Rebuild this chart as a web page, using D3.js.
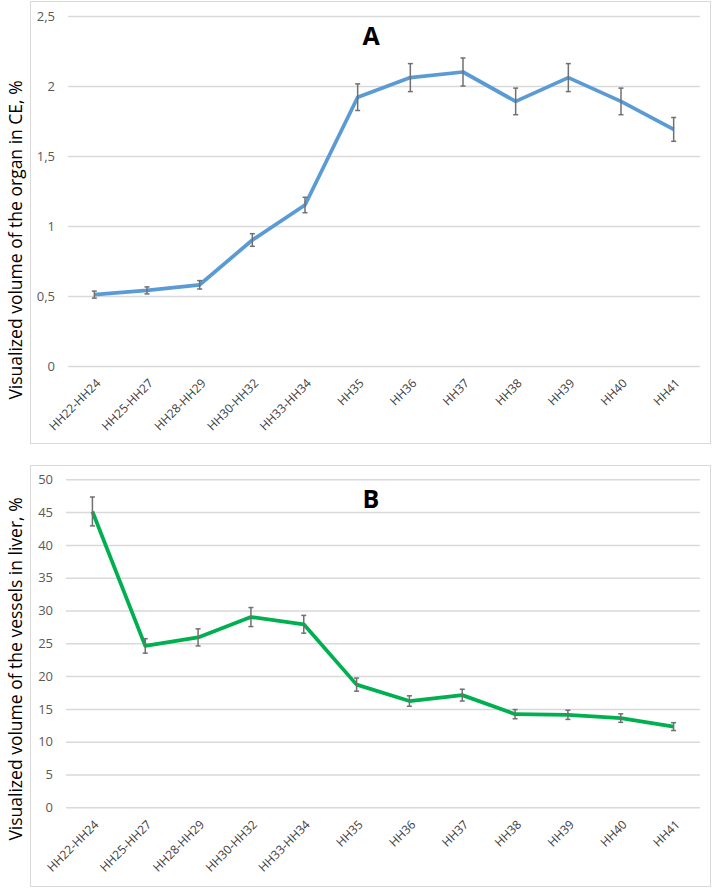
<!DOCTYPE html>
<html>
<head>
<meta charset="utf-8">
<script src="https://cdn.jsdelivr.net/npm/d3@7"></script>
<style>
  body { margin: 0; background: #fff; }
  svg { display: block; }
  text { font-family: "Open Sans", Lato, sans-serif; }
</style>
</head>
<body>
<svg id="chart" width="714" height="888"></svg>
<script>
// ---- Data ----
const categories = ["HH22-HH24","HH25-HH27","HH28-HH29","HH30-HH32","HH33-HH34","HH35","HH36","HH37","HH38","HH39","HH40","HH41"];

const organValues = [0.51, 0.54, 0.58, 0.90, 1.15, 1.92, 2.06, 2.10, 1.89, 2.06, 1.89, 1.69];
const organErrors = [0.025, 0.025, 0.03, 0.045, 0.055, 0.095, 0.10, 0.10, 0.095, 0.10, 0.095, 0.085];
const organTicks = [0, 0.5, 1, 1.5, 2, 2.5];
const organTickLabels = ["0", "0,5", "1", "1,5", "2", "2,5"];

const vesselValues = [45.1, 24.6, 25.9, 29.0, 27.9, 18.7, 16.2, 17.1, 14.2, 14.1, 13.6, 12.3];
const vesselErrors = [2.2, 1.1, 1.3, 1.45, 1.35, 1.0, 0.8, 0.9, 0.7, 0.7, 0.65, 0.6];
const vesselTicks = [0, 5, 10, 15, 20, 25, 30, 35, 40, 45, 50];
const vesselTickLabels = ["0", "5", "10", "15", "20", "25", "30", "35", "40", "45", "50"];

const svg = d3.select("#chart");

function panel(opts) {
  const g = svg.append("g");
  // frame
  g.append("rect")
    .attr("x", opts.box[0] + 0.5).attr("y", opts.box[1] + 0.5)
    .attr("width", opts.box[2]).attr("height", opts.box[3])
    .attr("fill", "#fff").attr("stroke", "#d9d9d9").attr("stroke-width", 1);

  const x = d3.scaleBand().domain(categories).range([opts.left, opts.right]);
  const y = d3.scaleLinear().domain([opts.ticks[0], opts.ticks[opts.ticks.length - 1]])
    .range([opts.bottom, opts.top]);

  // y axis with gridlines
  const yAxis = d3.axisLeft(y)
    .tickValues(opts.ticks)
    .tickSize(-(opts.right - opts.left))
    .tickPadding(opts.tickPad)
    .tickFormat((d, i) => opts.tickLabels[i]);
  const ya = g.append("g").attr("transform", `translate(${opts.left},0)`).call(yAxis);
  ya.select(".domain").remove();
  ya.selectAll(".tick line").attr("stroke", "#d9d9d9").attr("stroke-width", 1.5);
  ya.selectAll(".tick text").attr("fill", "#595959").attr("font-size", 13);

  // x axis labels
  const xAxis = d3.axisBottom(x).tickSize(0).tickPadding(0);
  const xa = g.append("g").attr("transform", `translate(0,${opts.bottom})`).call(xAxis);
  xa.select(".domain").remove();
  xa.selectAll(".tick text")
    .attr("fill", "#404040")
    .attr("font-size", 12)
    .attr("text-anchor", "end")
    .attr("dy", "0.35em")
    .attr("y", 0)
    .attr("transform", "translate(4,15) rotate(-45)");

  // line
  const cx = d => x(d) + x.bandwidth() / 2;
  const line = d3.line().x((d, i) => cx(categories[i])).y(d => y(d));
  g.append("path").datum(opts.values)
    .attr("d", line)
    .attr("fill", "none")
    .attr("stroke", opts.color)
    .attr("stroke-width", 3.75)
    .attr("stroke-linejoin", "round");

  // error bars
  const eb = g.append("g").attr("stroke", "#707070").attr("stroke-width", 1.5);
  opts.values.forEach((v, i) => {
    const xc = cx(categories[i]);
    const e = opts.errors[i];
    eb.append("line").attr("x1", xc).attr("x2", xc).attr("y1", y(v + e)).attr("y2", y(v - e));
    eb.append("line").attr("x1", xc - 2.5).attr("x2", xc + 2.5).attr("y1", y(v + e)).attr("y2", y(v + e));
    eb.append("line").attr("x1", xc - 2.5).attr("x2", xc + 2.5).attr("y1", y(v - e)).attr("y2", y(v - e));
  });

  // panel letter
  g.append("text")
    .attr("x", opts.letterPos[0]).attr("y", opts.letterPos[1])
    .attr("text-anchor", "middle")
    .attr("font-size", 25).attr("font-weight", "bold")
    .attr("fill", "#000")
    .text(opts.letter);

  // y axis title
  g.append("text")
    .attr("transform", `translate(${opts.titlePos[0]},${opts.titlePos[1]}) rotate(-90)`)
    .attr("text-anchor", "middle")
    .attr("font-size", 17.5)
    .attr("fill", "#000")
    .text(opts.yTitle);
}

panel({
  box: [30, 1, 680, 442],
  left: 68, right: 700, top: 16, bottom: 366,
  tickPad: 13,
  ticks: organTicks, tickLabels: organTickLabels,
  values: organValues, errors: organErrors,
  color: "#5b9bd5",
  letter: "A", letterPos: [371, 45],
  titlePos: [22, 240],
  yTitle: "Visualized volume of the organ in CE, %"
});

panel({
  box: [30, 465, 680, 421],
  left: 66, right: 700, top: 479.3, bottom: 807.3,
  tickPad: 13,
  ticks: vesselTicks, tickLabels: vesselTickLabels,
  values: vesselValues, errors: vesselErrors,
  color: "#00b050",
  letter: "B", letterPos: [371, 508],
  titlePos: [22, 669],
  yTitle: "Visualized volume of the vessels in liver, %"
});
</script>
</body>
</html>
